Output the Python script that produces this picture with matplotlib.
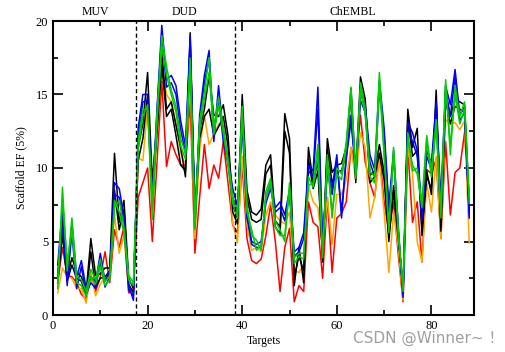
import matplotlib
matplotlib.use("Agg")
import matplotlib.pyplot as plt
import matplotlib.transforms as mtransforms
from matplotlib.ticker import MultipleLocator

targets = list(range(1, 89))

black_a = [2.6, 6.5, 2.5, 3.9, 2.9, 2.6, 1.5, 5.2, 2.7, 2.8, 3.2, 3.2, 11.0, 6.3, 7.8, 2.5, 1.8,
           11.4, 13.0, 16.5, 9.0, 13.1, 17.9, 14.0, 14.5, 12.9, 11.4, 9.4, 19.2, 7.0, 12.6, 14.0, 16.3, 13.6, 13.5, 14.3, 12.2, 7.5,
           6.6, 15.0, 8.5, 7.0, 6.8, 7.2, 10.2, 10.9, 6.4, 6.0, 13.7, 12.0, 2.0, 4.6, 2.2, 11.4, 9.0, 10.5, 3.6, 12.0, 9.7, 10.2,
           10.3, 11.4, 15.4, 9.5, 16.2, 14.7, 9.5, 9.8, 11.6, 9.7, 5.0, 8.8, 5.6, 1.5, 14.0, 11.4, 12.7, 5.4, 9.8, 8.2,
           15.3, 6.1, 15.2, 13.5, 14.7, 14.5, 14.3, 7.5]
black_b = [2.2, 5.5, 2.3, 3.4, 2.5, 2.3, 1.3, 4.3, 1.9, 2.5, 2.6, 3.0, 8.5, 5.8, 7.2, 2.1, 1.5,
           10.5, 12.0, 15.0, 8.5, 12.5, 17.0, 13.5, 14.0, 12.2, 10.2, 9.8, 18.5, 6.5, 12.0, 13.5, 14.0, 12.2, 12.8, 13.5, 11.5, 7.0,
           6.2, 14.2, 8.0, 6.5, 6.3, 6.5, 9.6, 10.2, 6.0, 5.5, 12.5, 11.0, 2.6, 4.0, 3.0, 10.6, 8.6, 9.8, 4.0, 11.3, 9.0, 9.8,
           9.8, 11.0, 15.0, 9.0, 15.6, 14.2, 9.0, 9.4, 11.0, 9.2, 5.4, 8.4, 5.2, 1.8, 13.4, 10.8, 11.2, 5.8, 9.4, 8.6,
           14.6, 5.7, 14.6, 13.0, 14.2, 14.0, 13.8, 7.0]
blue_a = [3.4, 7.3, 2.0, 6.2, 2.6, 3.7, 1.8, 2.6, 2.2, 4.2, 2.3, 3.0, 9.0, 8.6, 6.7, 2.0, 1.0,
          12.7, 15.0, 15.0, 8.0, 14.1, 19.7, 16.0, 16.3, 15.6, 13.2, 11.5, 19.0, 6.0, 13.6, 16.3, 18.0, 11.8, 15.6, 12.2, 10.7, 8.6,
          7.4, 13.5, 7.0, 4.8, 4.6, 4.6, 8.0, 9.0, 7.3, 7.7, 6.8, 8.5, 4.3, 4.6, 5.6, 10.2, 9.8, 15.5, 4.5, 10.2, 8.6, 10.9,
          6.6, 10.9, 13.6, 9.9, 15.0, 14.3, 10.9, 9.9, 16.0, 12.7, 7.4, 11.2, 6.0, 1.2, 13.1, 12.4, 11.2, 6.4, 11.2, 10.3,
          14.5, 7.7, 15.6, 14.3, 16.7, 13.6, 14.2, 6.6]
blue_b = [2.8, 6.0, 2.3, 5.6, 1.8, 3.3, 1.4, 2.2, 1.8, 3.6, 1.9, 2.6, 8.2, 8.0, 6.2, 1.7, 1.3,
          12.0, 14.5, 14.6, 7.5, 13.6, 19.2, 15.5, 15.8, 15.0, 12.6, 11.0, 18.5, 6.4, 13.0, 15.8, 17.4, 12.3, 14.8, 11.8, 10.3, 8.0,
          7.0, 13.0, 6.6, 5.0, 4.8, 5.0, 7.6, 8.6, 7.0, 7.3, 6.4, 8.2, 4.0, 4.3, 5.2, 9.8, 9.4, 14.0, 4.8, 9.8, 8.2, 10.4,
          7.0, 10.6, 13.2, 9.6, 14.6, 13.8, 10.4, 9.4, 15.4, 12.2, 7.0, 10.8, 5.6, 1.5, 12.6, 11.8, 10.8, 6.8, 10.8, 9.9,
          14.0, 7.3, 15.2, 13.5, 16.2, 13.2, 13.8, 6.8]
green_a = [1.8, 8.7, 3.0, 6.6, 2.6, 2.4, 1.6, 3.1, 2.4, 3.8, 2.3, 2.6, 7.3, 7.8, 6.0, 2.7, 2.2,
           11.8, 14.0, 14.0, 7.7, 13.8, 19.0, 16.9, 15.3, 14.2, 12.0, 11.0, 17.5, 6.5, 13.2, 15.2, 17.5, 12.8, 14.8, 12.8, 10.6, 8.0,
           7.0, 14.2, 7.5, 5.4, 5.1, 4.4, 8.4, 9.3, 6.4, 5.8, 5.0, 9.0, 3.9, 4.2, 4.2, 8.8, 9.0, 11.6, 3.9, 10.9, 6.6, 10.0,
           9.6, 11.8, 15.5, 9.5, 15.8, 14.0, 9.8, 9.4, 16.5, 11.2, 5.6, 11.4, 5.8, 1.6, 12.4, 9.8, 10.0, 7.7, 12.2, 9.8,
           13.3, 7.0, 16.0, 10.9, 15.6, 13.5, 14.5, 8.0]
green_b = [2.2, 7.8, 3.6, 5.8, 2.2, 2.0, 1.3, 2.6, 2.1, 3.3, 2.0, 2.4, 7.8, 7.0, 5.6, 2.4, 2.0,
           11.2, 13.5, 14.3, 6.5, 13.2, 18.3, 16.3, 15.0, 13.8, 11.5, 10.6, 17.0, 5.8, 12.6, 14.7, 16.5, 12.3, 14.2, 12.4, 10.2, 7.6,
           6.6, 13.5, 7.0, 5.8, 4.4, 4.8, 8.0, 9.0, 6.0, 5.4, 5.4, 8.6, 3.5, 4.0, 3.8, 9.4, 8.7, 11.0, 4.2, 10.4, 7.0, 9.6,
           9.2, 11.4, 15.0, 9.3, 15.3, 13.6, 9.4, 9.0, 15.8, 10.8, 6.0, 11.0, 5.4, 1.9, 12.0, 10.2, 9.6, 7.3, 11.8, 9.4,
           12.8, 6.6, 15.6, 11.5, 15.0, 13.0, 14.0, 7.6]
orange = [1.5, 3.2, 2.6, 2.5, 1.8, 1.8, 0.8, 2.9, 1.3, 2.1, 2.6, 2.5, 6.8, 4.2, 5.4, 1.8, 1.6,
          10.7, 10.5, 14.2, 6.8, 12.2, 17.0, 15.0, 14.5, 13.0, 11.0, 10.2, 16.0, 5.2, 11.2, 13.6, 11.6, 12.3, 13.0, 12.8, 10.4, 6.2,
          4.9, 10.8, 6.2, 4.4, 4.6, 4.3, 6.8, 7.7, 6.8, 6.4, 6.2, 7.0, 3.0, 2.9, 3.4, 8.8, 7.7, 7.3, 4.5, 8.0, 4.8, 8.2,
          8.2, 9.2, 11.4, 9.2, 12.4, 11.4, 6.6, 8.0, 10.6, 7.0, 2.9, 7.0, 4.6, 1.0, 11.4, 9.6, 5.0, 3.6, 9.0, 7.0,
          10.8, 5.2, 13.3, 13.0, 13.1, 12.6, 13.2, 4.9]
red = [2.2, 4.6, 2.7, 2.6, 2.2, 1.4, 1.1, 2.6, 1.6, 2.6, 4.3, 2.2, 5.8, 4.6, 6.0, 1.5, 1.7,
       8.0, 9.0, 10.0, 5.0, 10.5, 15.9, 10.1, 11.8, 10.9, 10.2, 10.2, 14.6, 4.2, 8.0, 11.6, 8.6, 10.2, 9.3, 11.8, 9.0, 6.1,
       5.6, 10.2, 5.2, 3.7, 3.5, 3.8, 5.4, 7.5, 5.0, 1.6, 4.6, 5.9, 0.9, 2.0, 1.6, 7.7, 6.3, 6.0, 2.5, 8.0, 2.9, 6.6,
       6.9, 7.7, 11.4, 10.2, 13.6, 10.4, 9.0, 8.0, 11.0, 7.7, 5.6, 7.7, 4.1, 0.9, 11.4, 6.3, 7.7, 3.6, 9.9, 9.6,
       10.6, 5.2, 11.8, 6.8, 9.7, 10.0, 12.4, 8.0]

section_names = ["MUV", "DUD", "ChEMBL"]
section_label_x = [8.9, 27.9, 63.3]
section_bounds = [17.5, 38.5]

plt.rcParams['font.family'] = ['Liberation Serif', 'DejaVu Serif']

fig = plt.figure(figsize=(5.05, 3.52), dpi=100)
ax = fig.add_axes([53/505, 37/352, (474-53)/505, (315-21)/352])

lw = 1.1
ax.plot(targets, red, color='#ff0000', lw=lw)
ax.plot(targets, orange, color='#ffa500', lw=lw)
ax.plot(targets, black_a, color='black', lw=lw)
ax.plot(targets, black_b, color='black', lw=lw)
ax.plot(targets, blue_a, color='#0000ff', lw=lw)
ax.plot(targets, blue_b, color='#0000ff', lw=lw)
ax.plot(targets, green_a, color='#00cc00', lw=lw)
ax.plot(targets, green_b, color='#00cc00', lw=lw)

for b in section_bounds:
    ax.axvline(b, color='black', lw=1.0, ls=(0, (3, 2)))

ax.set_xlim(0, 89)
ax.set_ylim(0, 20)
ax.xaxis.set_major_locator(MultipleLocator(20))
ax.xaxis.set_minor_locator(MultipleLocator(10))
ax.yaxis.set_major_locator(MultipleLocator(5))
ax.yaxis.set_minor_locator(MultipleLocator(2.5))
ax.tick_params(which='both', direction='in', top=True, right=True, labelsize=9, width=1.2)
ax.tick_params(which='major', length=7)
ax.tick_params(which='minor', length=3.5)
for s in ax.spines.values():
    s.set_linewidth(1.5)

ax.set_xlabel("Targets", fontsize=8.5, labelpad=2)
ax.set_ylabel("Scaffold EF (5%)", fontsize=8.5, labelpad=6)

trans = mtransforms.blended_transform_factory(ax.transData, ax.transAxes)
for name, xpos in zip(section_names, section_label_x):
    ax.text(xpos, 1.031, name, transform=trans, ha='center', va='center', fontsize=8.5)

fig.text(428/505, 1 - 338/352, "CSDN @Winner~ ！", color='#a0a0a0', fontsize=11,
         ha='center', va='center', family=['DejaVu Sans', 'Noto Sans CJK SC'])

fig.savefig("out.png", dpi=100)
